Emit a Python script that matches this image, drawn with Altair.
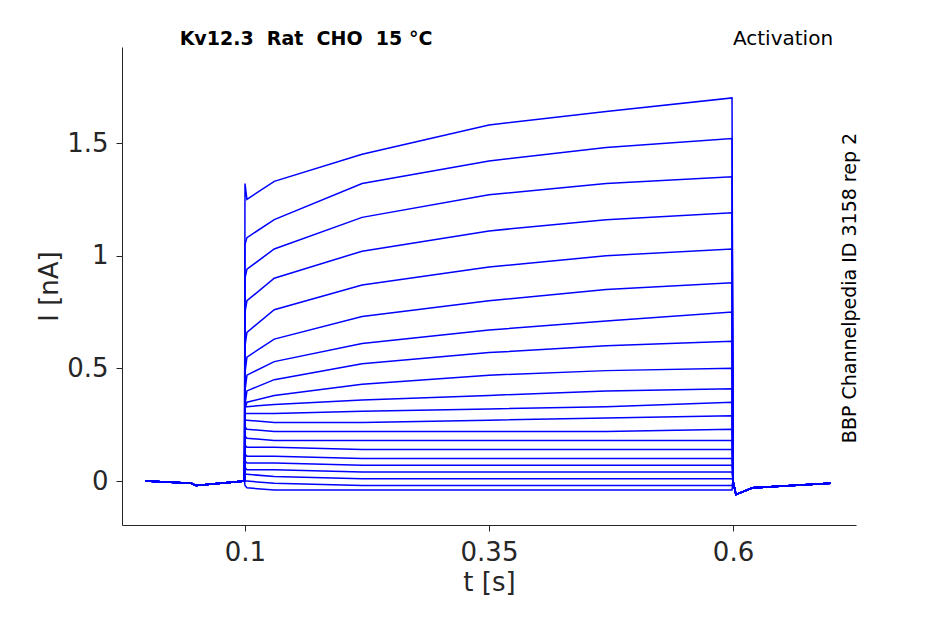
import altair as alt
import pandas as pd

# sample times (s) and the current (nA) read at each, one list per trace
times = [-0.002, 0.045, 0.05, 0.0995, 0.1, 0.102, 0.13, 0.22, 0.35, 0.47, 0.599, 0.6, 0.603, 0.62, 0.7]

pulse = [
    [1.32, 1.25, 1.33, 1.45, 1.58, 1.64, 1.70],
    [1.05, 1.08, 1.16, 1.32, 1.42, 1.48, 1.52],
    [0.90, 0.94, 1.03, 1.17, 1.27, 1.32, 1.35],
    [0.75, 0.80, 0.90, 1.02, 1.11, 1.16, 1.19],
    [0.60, 0.66, 0.76, 0.87, 0.95, 1.00, 1.03],
    [0.48, 0.55, 0.63, 0.73, 0.80, 0.85, 0.88],
    [0.40, 0.47, 0.53, 0.61, 0.67, 0.71, 0.75],
    [0.34, 0.40, 0.45, 0.52, 0.57, 0.60, 0.62],
    [0.32, 0.35, 0.38, 0.43, 0.47, 0.49, 0.50],
    [0.33, 0.33, 0.34, 0.36, 0.38, 0.40, 0.41],
    [0.30, 0.30, 0.30, 0.31, 0.32, 0.33, 0.35],
    [0.27, 0.27, 0.26, 0.26, 0.27, 0.28, 0.29],
    [0.24, 0.23, 0.22, 0.22, 0.22, 0.22, 0.23],
    [0.20, 0.19, 0.18, 0.18, 0.18, 0.18, 0.18],
    [0.16, 0.15, 0.15, 0.14, 0.14, 0.14, 0.14],
    [0.12, 0.11, 0.11, 0.10, 0.10, 0.10, 0.10],
    [0.09, 0.08, 0.08, 0.07, 0.07, 0.07, 0.07],
    [0.06, 0.05, 0.05, 0.04, 0.04, 0.04, 0.04],
    [0.03, 0.03, 0.02, 0.01, 0.01, 0.01, 0.01],
    [0.0, 0.0, -0.01, -0.02, -0.02, -0.02, -0.02],
    [-0.02, -0.03, -0.04, -0.04, -0.04, -0.04, -0.04],
]
before = [0.0, -0.01, -0.02, 0.0]
after = [0.0, -0.06, -0.03, -0.01]

rows = []
for i, p in enumerate(pulse):
    tr = before + p + after
    for k, (t, v) in enumerate(zip(times, tr)):
        rows.append({"trace": i, "order": k, "t": t, "I": v})
df = pd.DataFrame(rows)

lines = alt.Chart(df).mark_line(color="#0000ff", strokeWidth=1.5, clip=True).encode(
    x=alt.X("t:Q", title="t [s]",
            scale=alt.Scale(domain=[-0.026, 0.726], nice=False, zero=False),
            axis=alt.Axis(values=[0.1, 0.35, 0.6], labelExpr="datum.value == 0.35 ? '0.35' : format(datum.value, '~g')", grid=False)),
    y=alt.Y("I:Q", title="I [nA]",
            scale=alt.Scale(domain=[-0.195, 1.926], nice=False, zero=False),
            axis=alt.Axis(values=[0, 0.5, 1, 1.5], format="~g", grid=False)),
    detail="trace:N",
    order="order:Q",
)

label_df = pd.DataFrame([{"k": 0}])
title_txt = alt.Chart(label_df).mark_text(
    text="Kv12.3\u00a0\u00a0Rat\u00a0\u00a0CHO\u00a0\u00a015 °C", fontWeight="bold", fontSize=19,
    font="DejaVu Sans", color="black"
).encode(x=alt.value(184), y=alt.value(-8))
act_txt = alt.Chart(label_df).mark_text(
    text="Activation", fontSize=20, font="DejaVu Sans", color="black"
).encode(x=alt.value(661), y=alt.value(-8))
side_txt = alt.Chart(label_df).mark_text(
    text="BBP Channelpedia ID 3158 rep 2", fontSize=19, font="DejaVu Sans", color="black", angle=270
).encode(x=alt.value(728), y=alt.value(241))

chart = (lines + title_txt + act_txt + side_txt).properties(
    width=734, height=478,
    autosize=alt.AutoSizeParams(type="none"),
    padding={"left": 114, "top": 39, "right": 50, "bottom": 70},
).configure_view(stroke=None).configure_axis(
    labelFontSize=26, titleFontSize=26, labelFont="DejaVu Sans", titleFont="DejaVu Sans",
    labelColor="#262626", titleColor="#262626", domainColor="#262626", tickColor="#262626",
    titleFontWeight="normal", labelPadding=8, tickSize=6,
)

chart.save("out.html", embed_options={"renderer": "svg", "actions": False})
